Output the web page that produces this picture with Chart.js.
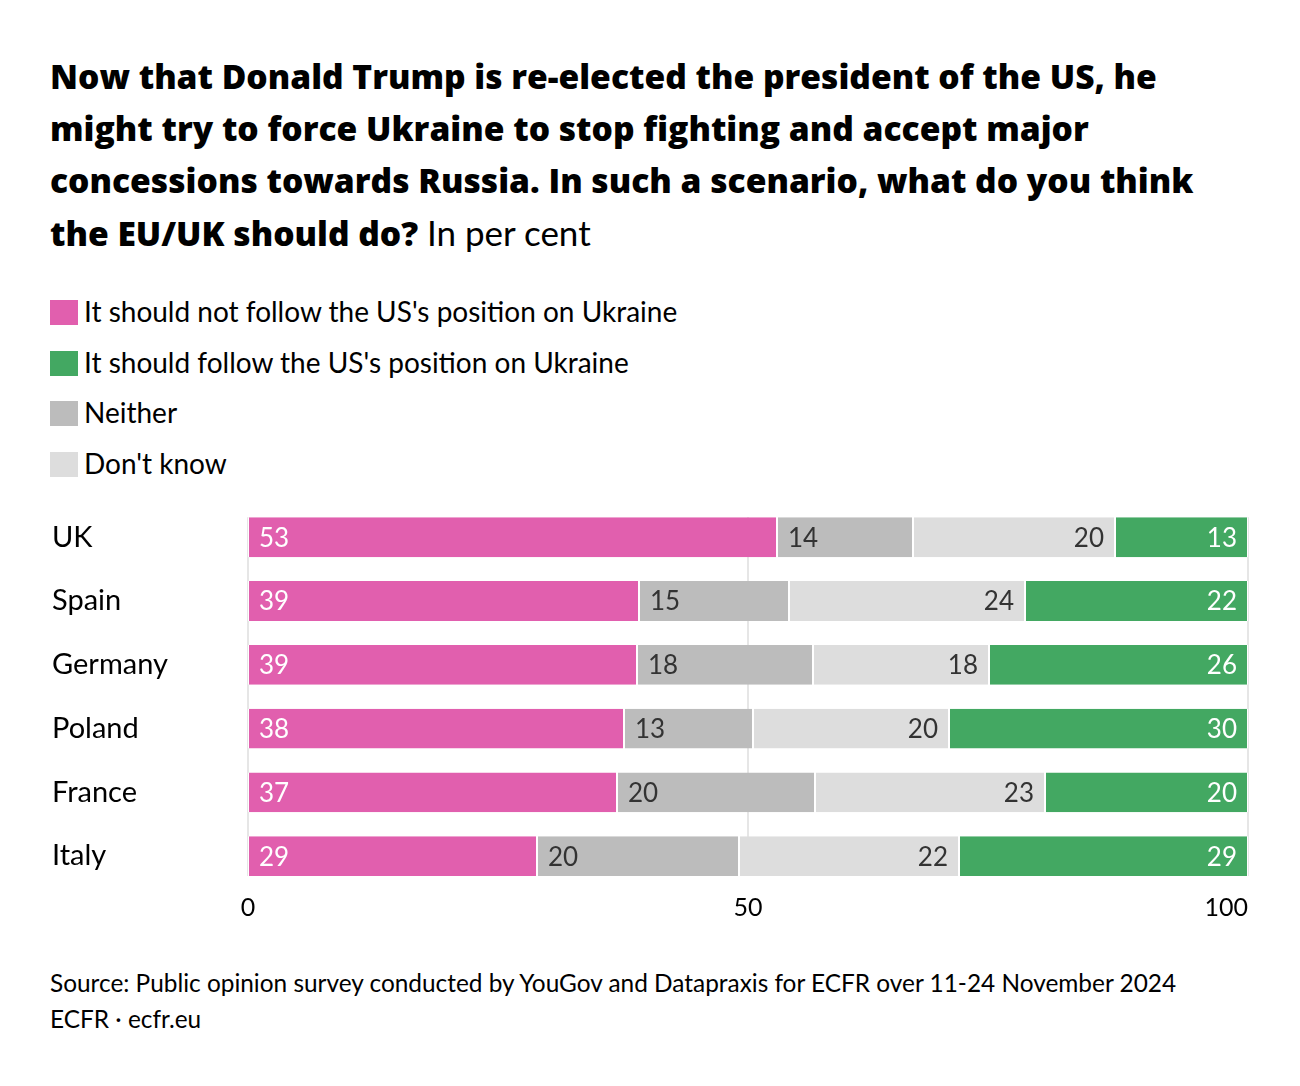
<!DOCTYPE html>
<html>
<head>
<meta charset="utf-8">
<script src="https://cdn.jsdelivr.net/npm/chart.js@4.4.1/dist/chart.umd.min.js"></script>
<style>
  body { margin: 0; background: #fff; font-family: "Lato", "Noto Sans", sans-serif; color: #000; }
  #wrap { position: relative; width: 1300px; height: 1086px; }
  #title { position: absolute; left: 50px; top: 50px; font-family: "Open Sans", sans-serif; font-size: 33.6px; line-height: 52px; white-space: nowrap; }
  #title b { font-weight: 800; }
  #title span { font-family: "Lato", sans-serif; font-size: 35px; }
  #legend { position: absolute; left: 50px; top: 294px; font-size: 28px; }
  .item { height: 50.5px; display: flex; align-items: flex-start; }
  .sw { width: 28px; height: 25px; margin: 6px 6px 0 0; }
  #chartBox { position: absolute; left: 0; top: 488px; width: 1300px; height: 440px; }
  #foot { position: absolute; left: 50px; top: 965px; font-size: 24.4px; line-height: 36px; }
</style>
</head>
<body>
<div id="wrap">
  <div id="title"><b>Now that Donald Trump is re-elected the president of the US, he<br>might try to force Ukraine to stop fighting and accept major<br>concessions towards Russia. In such a scenario, what do you think<br>the EU/UK should do?</b> <span>In per cent</span></div>
  <div id="legend"></div>
  <div id="chartBox"><canvas id="chart"></canvas></div>
  <div id="foot">Source: Public opinion survey conducted by YouGov and Datapraxis for ECFR over 11-24 November 2024<br>ECFR · ecfr.eu</div>
</div>
<script>
const countries = ["UK", "Spain", "Germany", "Poland", "France", "Italy"];
const notFollow = [52.9, 39.1, 38.9, 37.6, 36.9, 28.9];
const neither   = [13.6, 15.0, 17.6, 12.9, 19.8, 20.2];
const dontKnow  = [20.2, 23.6, 17.6, 19.6, 23.0, 22.0];
const follow    = [13.3, 22.3, 25.9, 29.9, 20.3, 28.9];
const xTicks = [0, 50, 100];

const pink = "#e15fae", green = "#43a862", grey = "#bcbcbc", light = "#dddddd";

// legend order differs from the stacking order
const legendItems = [
  ["It should not follow the US's position on Ukraine", pink],
  ["It should follow the US's position on Ukraine", green],
  ["Neither", grey],
  ["Don't know", light]
];
const legendEl = document.getElementById("legend");
legendItems.forEach(([txt, col]) => {
  const d = document.createElement("div");
  d.className = "item";
  d.innerHTML = '<span class="sw" style="background:' + col + '"></span><span>' + txt + '</span>';
  legendEl.appendChild(d);
});

const FONT = '"Lato", "Noto Sans", sans-serif';

const gridAndLabels = {
  id: "gridAndLabels",
  beforeDatasetsDraw(chart) {
    const ctx = chart.ctx;
    const x = chart.scales.x;
    const first = chart.getDatasetMeta(0).data[0];
    const last = chart.getDatasetMeta(0).data[countries.length - 1];
    const top = first.y - first.height / 2;
    const bottom = last.y + last.height / 2;
    ctx.save();
    ctx.strokeStyle = "#e6e6e6";
    ctx.lineWidth = 2;
    xTicks.forEach(v => {
      const px = x.getPixelForValue(v);
      ctx.beginPath();
      ctx.moveTo(px, top);
      ctx.lineTo(px, bottom);
      ctx.stroke();
    });
    ctx.restore();
  },
  afterDatasetsDraw(chart) {
    const ctx = chart.ctx;
    const x = chart.scales.x;
    ctx.save();
    ctx.font = "26px " + FONT;
    ctx.textBaseline = "middle";
    chart.data.datasets.forEach((ds, di) => {
      const meta = chart.getDatasetMeta(di);
      meta.data.forEach((el, i) => {
        const txt = String(Math.round(ds.data[i]));
        const left = Math.min(el.x, el.base), right = Math.max(el.x, el.base);
        ctx.fillStyle = ds.labelColor;
        if (ds.labelAlign === "left") {
          ctx.textAlign = "left";
          ctx.fillText(txt, left + 11, el.y + 1);
        } else {
          ctx.textAlign = "right";
          ctx.fillText(txt, right - 11, el.y + 1);
        }
      });
    });
    // x-axis tick labels: last one right-aligned to the chart edge
    ctx.fillStyle = "#000";
    ctx.font = "25px " + FONT;
    const y = chart.chartArea.bottom + 20;
    xTicks.forEach((v, i) => {
      ctx.textAlign = i === xTicks.length - 1 ? "right" : "center";
      ctx.fillText(String(v), x.getPixelForValue(v), y);
    });
    ctx.restore();
  }
};

new Chart(document.getElementById("chart"), {
  type: "bar",
  data: {
    labels: countries,
    datasets: [
      { label: "It should not follow the US's position on Ukraine", data: notFollow, backgroundColor: pink, labelColor: "#fff", labelAlign: "left" },
      { label: "Neither", data: neither, backgroundColor: grey, labelColor: "#333", labelAlign: "left" },
      { label: "Don't know", data: dontKnow, backgroundColor: light, labelColor: "#333", labelAlign: "right" },
      { label: "It should follow the US's position on Ukraine", data: follow, backgroundColor: green, labelColor: "#fff", labelAlign: "right" }
    ]
  },
  options: {
    indexAxis: "y",
    responsive: true,
    maintainAspectRatio: false,
    animation: false,
    layout: { padding: { left: 52, right: 52, top: 14, bottom: 40 } },
    datasets: {
      bar: {
        categoryPercentage: 1,
        barPercentage: 0.625,
        borderColor: "#fff",
        borderWidth: { left: 1, right: 1 },
        borderSkipped: false
      }
    },
    scales: {
      x: { stacked: true, min: 0, max: 100, display: false },
      y: {
        stacked: true,
        grid: { display: false },
        border: { display: false },
        ticks: { crossAlign: "far", color: "#000", font: { size: 29, family: FONT }, padding: 0 },
        afterFit(scale) { scale.width = 196; }
      }
    },
    plugins: {
      legend: { display: false },
      tooltip: { enabled: false }
    }
  },
  plugins: [gridAndLabels]
});
</script>
</body>
</html>
